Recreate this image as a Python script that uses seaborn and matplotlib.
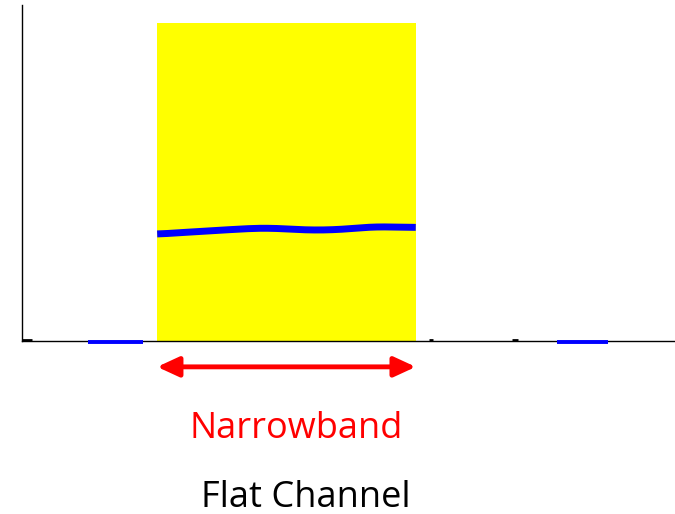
import numpy as np
import matplotlib
matplotlib.use('Agg')
import matplotlib.pyplot as plt
import seaborn as sns
import pandas as pd

# Frequency axis in arbitrary units (0..10 across the plot)
band_edges = [2.07, 6.03]
band_height = 0.946

# Channel response inside the band
resp_freq = [2.07, 2.8, 3.5, 3.8, 4.4, 4.8, 5.4, 6.03]
resp_gain = [0.318, 0.327, 0.335, 0.336, 0.330, 0.331, 0.340, 0.338]

# Flat pieces outside the band (sitting on the baseline)
out_left = [1.01, 1.85]
out_right = [8.19, 8.97]
small_ticks = [[6.23, 6.30], [7.50, 7.60], [0.0, 0.15]]

labels = ['Narrowband', 'Flat Channel']

sns.set_style('white')
plt.rcParams['font.family'] = ['Open Sans', 'DejaVu Sans']

fig = plt.figure(figsize=(6.75, 5.14), dpi=100)
ax = fig.add_axes([0.0326, 0.3366, 0.9674, 0.6537])
ax.set_xlim(0, 10)
ax.set_ylim(0, 1)

# yellow band
ax.axvspan(band_edges[0], band_edges[1], ymin=0, ymax=band_height, color='#ffff00', lw=0, zorder=1)

# smooth response curve
resp = pd.DataFrame({'f': resp_freq, 'g': resp_gain})
ff = np.linspace(resp_freq[0], resp_freq[-1], 200)
gg = np.interp(ff, resp['f'], resp['g'])
gg = np.convolve(np.pad(gg, 10, mode='edge'), np.ones(21) / 21, mode='valid')
sns.lineplot(x=ff, y=gg, color='#0000ff', lw=5, ax=ax, zorder=3, solid_capstyle='butt')

for seg in [out_left, out_right]:
    ax.plot(seg, [-0.004, -0.004], color='#0000ff', lw=2.8, zorder=3, clip_on=False, solid_capstyle='butt')
for seg in small_ticks:
    ax.plot(seg, [0.003, 0.003], color='black', lw=2, zorder=2, solid_capstyle='butt')

ax.set_xticks([])
ax.set_yticks([])
for s in ['top', 'right']:
    ax.spines[s].set_visible(False)
ax.spines['left'].set_color('black')
ax.spines['bottom'].set_color('black')
ax.spines['left'].set_linewidth(1.0)
ax.spines['bottom'].set_linewidth(1.0)
ax.spines['left'].set_bounds(0, 1.0)

# double-headed arrow below the band
ax.annotate('', xy=(band_edges[0], -0.077), xytext=(band_edges[1], -0.077),
            xycoords='data', annotation_clip=False,
            arrowprops=dict(arrowstyle='<|-|>,head_length=1.3,head_width=0.6',
                            color='#ff0000', lw=3.5, shrinkA=0, shrinkB=0))

fig.text(296 / 675, 1 - 438 / 514, labels[0], color='#ff0000', fontsize=26,
         ha='center', va='baseline')
fig.text(306 / 675, 1 - 507 / 514, labels[1], color='black', fontsize=26,
         ha='center', va='baseline')

fig.savefig('out.png', dpi=100)
